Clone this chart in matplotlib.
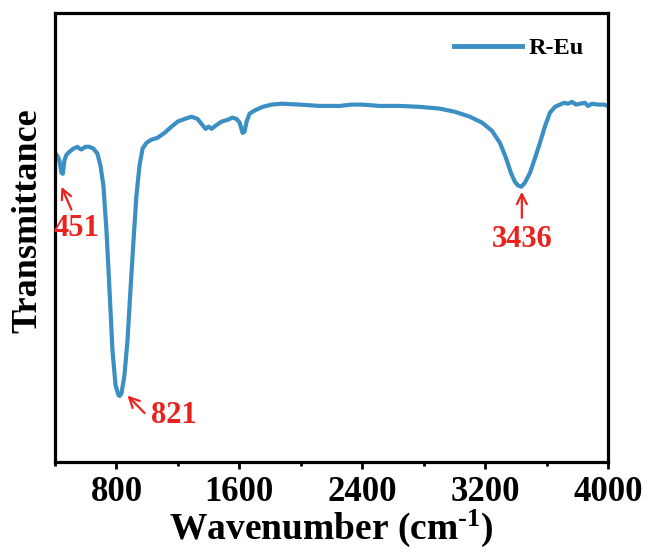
import matplotlib
matplotlib.use("Agg")
import matplotlib.pyplot as plt
from matplotlib.ticker import MultipleLocator

plt.rcParams['font.family'] = ['Liberation Serif', 'DejaVu Serif']
plt.rcParams['font.weight'] = 'bold'
plt.rcParams['mathtext.fontset'] = 'custom'
plt.rcParams['mathtext.rm'] = 'Liberation Serif:bold'
plt.rcParams['mathtext.bf'] = 'Liberation Serif:bold'
plt.rcParams['mathtext.default'] = 'bf'

wavenumber = [400, 416, 429, 442, 451, 461, 474, 494, 520, 546, 559, 572, 598, 624, 650,
              676, 696, 715, 735, 755, 774, 794, 813, 821, 833, 852, 872, 891, 911, 930,
              950, 970, 996, 1028, 1067, 1113, 1159, 1198, 1243, 1289, 1328, 1354, 1380,
              1400, 1419, 1445, 1484, 1523, 1556, 1582, 1602, 1621, 1634, 1647, 1667,
              1706, 1752, 1811, 1876, 1993, 2123, 2253, 2331, 2397, 2514, 2645, 2775,
              2905, 3003, 3101, 3179, 3244, 3296, 3335, 3368, 3394, 3414, 3436, 3459,
              3492, 3524, 3557, 3589, 3622, 3655, 3687, 3713, 3740, 3766, 3792, 3818,
              3850, 3870, 3896, 3935, 3974, 4000]
transmittance = [68.7, 68.2, 67.1, 64.4, 64.2, 67.1, 68.4, 69.1, 69.8, 70.2, 69.8, 69.6, 70.2,
                 70.2, 69.8, 68.7, 66.0, 61.6, 51.6, 38.2, 24.9, 17.1, 14.9, 14.7, 15.3,
                 19.3, 27.1, 38.2, 49.3, 59.3, 66.0, 69.8, 71.1, 71.8, 72.2, 73.3, 74.7,
                 75.8, 76.4, 76.9, 76.4, 75.3, 74.2, 74.7, 74.2, 74.9, 75.8, 76.2, 76.7,
                 76.4, 75.6, 73.3, 73.6, 75.8, 77.6, 78.4, 79.1, 79.6, 79.8, 79.6, 79.3,
                 79.3, 79.6, 79.6, 79.3, 79.3, 79.1, 78.7, 78.0, 76.9, 75.6, 73.8, 71.1,
                 67.8, 64.4, 62.4, 61.6, 61.3, 62.2, 64.4, 67.6, 71.1, 74.7, 77.8, 79.1,
                 79.6, 80.0, 79.8, 80.2, 79.6, 79.8, 80.0, 79.3, 79.8, 79.6, 79.6, 79.3]

peak_labels = ["451", "821", "3436"]
x_ticks = [800, 1600, 2400, 3200, 4000]
series_name = "R-Eu"

line_color = '#3b8fc2'
red = '#e8231f'

fig = plt.figure(figsize=(6.53, 5.53), dpi=100)
ax = fig.add_axes([55/653, 1-462/553, (608-55)/653, (462-13)/553])

ax.plot(wavenumber, transmittance, color=line_color, lw=3.0, label=series_name)
ax.set_xlim(400, 4000)
ax.set_ylim(0, 100)
ax.set_xticks(x_ticks)
ax.xaxis.set_minor_locator(MultipleLocator(400))
ax.set_yticks([])
ax.tick_params(axis='x', which='major', length=5, width=2.0, direction='out',
               labelsize=25, pad=5)
ax.tick_params(axis='x', which='minor', length=3, width=2.0, direction='out')
for lab in ax.get_xticklabels():
    lab.set_fontweight('bold')
for s in ax.spines.values():
    s.set_linewidth(2.3)

ax.set_xlabel('Wavenumber (cm$^{\\text{-1}}$)', fontsize=27, fontweight='bold', labelpad=-1)
ax.set_ylabel('Transmittance', fontsize=26, fontweight='bold')
ax.yaxis.set_label_coords(-0.02, 0.537)

ap = dict(arrowstyle='->', color=red, lw=1.6, mutation_scale=18, shrinkA=0, shrinkB=0)
# 451
ax.annotate('', xy=(442, 61.3), xytext=(507, 56.2), arrowprops=ap)
ax.text(541, 52.0, peak_labels[0], color=red, fontsize=22, fontweight='bold',
        ha='center', va='center')
# 821
ax.annotate('', xy=(872, 14.8), xytext=(983, 10.9), arrowprops=ap)
ax.text(1175, 10.3, peak_labels[1], color=red, fontsize=22, fontweight='bold',
        ha='center', va='center')
# 3436
ax.annotate('', xy=(3439, 60.2), xytext=(3439, 54.4), arrowprops=ap)
ax.text(3439, 49.6, peak_labels[2], color=red, fontsize=22, fontweight='bold',
        ha='center', va='center')

leg = ax.legend(loc='upper right', bbox_to_anchor=(0.995, 0.995), frameon=False,
                fontsize=17.5, handlelength=2.8, handletextpad=0.25)
for t in leg.get_texts():
    t.set_fontweight('bold')
for l in leg.get_lines():
    l.set_linewidth(3.5)

fig.savefig('out.png', dpi=100)
